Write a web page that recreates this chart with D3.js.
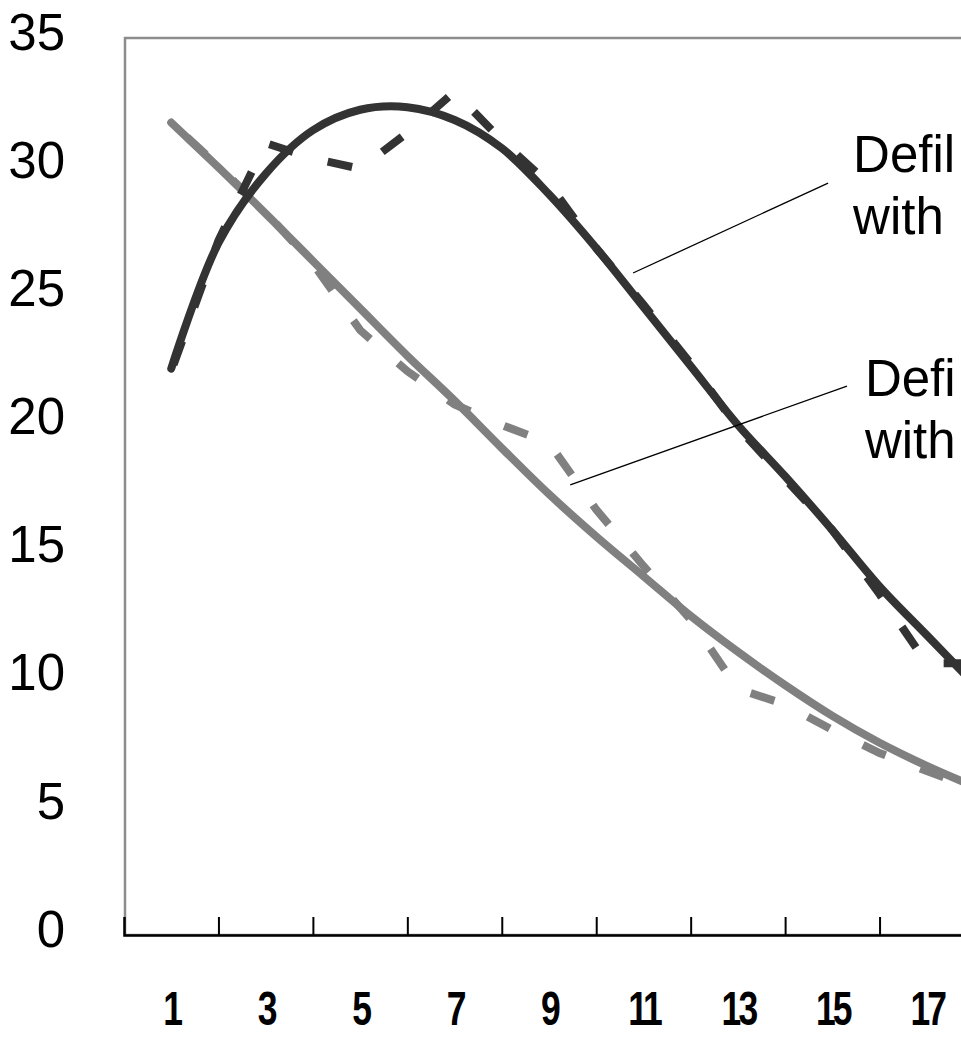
<!DOCTYPE html>
<html>
<head>
<meta charset="utf-8">
<script src="https://cdn.jsdelivr.net/npm/d3@7"></script>
<style>
  html, body { margin: 0; padding: 0; background: #fff; overflow: hidden; }
  svg { display: block; font-family: "Liberation Sans", Arial, sans-serif; }
</style>
</head>
<body>
<div id="chart"></div>
<script>
// categories on the x axis
const categories = [1, 2, 3, 4, 5, 6, 7, 8, 9, 10, 11, 12, 13, 14, 15, 16, 17, 18]

// dark series: measured values (dashed) and its smooth trend
const darkValues = [22.0, 27.1, 30.9, 30.3, 29.9, 31.3, 32.9, 31.0, 29.3, 26.8, 24.6, 22.3, 19.8, 17.8, 15.8, 13.3, 10.6, 10.6]
const darkTrend  = [22.1, 27.0, 29.7, 31.4, 32.2, 32.3, 31.8, 30.7, 28.9, 26.8, 24.5, 22.2, 19.9, 17.9, 15.8, 13.6, 11.7, 9.8]

// light series: measured values (dashed) and its smooth trend
const lightValues = [31.7, 30.0, 28.2, 26.2, 23.6, 22.0, 20.7, 19.9, 19.2, 16.6, 14.4, 12.3, 9.6, 9.0, 8.0, 7.1, 6.4, 5.7]
const lightTrend  = [31.7, 29.95, 28.15, 26.3, 24.45, 22.6, 20.85, 19.0, 17.2, 15.55, 14.0, 12.45, 11.05, 9.75, 8.55, 7.5, 6.6, 5.8]

// axis ticks
const yTicks = [0, 5, 10, 15, 20, 25, 30, 35]
const xTickMarks = [2, 4, 6, 8, 10, 12, 14, 16, 18]
const xTickLabels = [1, 3, 5, 7, 9, 11, 13, 15, 17]

// callout texts (cut by the right edge of the picture)
const calloutLines = [["Defil", "with"], ["Defi", "with"]]
const calloutText = [[15.44, 29.77], [15.69, 21.03]]
const calloutFrom = [[14.91, 29.34], [15.31, 21.42]]
const calloutTo   = [[10.78, 25.83], [9.45, 17.56]]

// setup the dimensions
const margin = { top: 38, right: -14, bottom: 103, left: 125 }
const width = 961 - margin.left - margin.right
const height = 1038 - margin.top - margin.bottom

const svg = d3.select("#chart")
  .append("svg")
    .attr("width", 961)
    .attr("height", 1038)
  .append("g")
    .attr("transform", "translate(" + margin.left + "," + margin.top + ")")

const x = d3.scaleLinear()
    .domain([0, 18])
    .range([-1, width - 1])

const y = d3.scaleLinear()
    .domain([0, 35])
    .range([height, 0])

// plot area border (grey, top and left)
svg.append("rect")
    .attr("x", 0)
    .attr("y", 0)
    .attr("width", width)
    .attr("height", height)
    .attr("fill", "none")
    .attr("stroke", "#8c8c8c")
    .attr("stroke-width", 2.5)

// y axis labels
const yAxis = svg.append("g")
    .call(d3.axisLeft(y).tickValues(yTicks).tickSize(0).tickPadding(60))
yAxis.select(".domain").remove()
yAxis.selectAll("text")
    .attr("font-size", 51)
    .attr("font-family", "Liberation Sans, Arial, sans-serif")
    .attr("fill", "#000")
    .attr("dy", "0.22em")

// x axis line with inner tick marks
const xAxis = svg.append("g")
    .attr("transform", `translate(0,${height})`)
    .call(d3.axisBottom(x).tickValues(xTickMarks).tickSize(-18).tickFormat(""))
xAxis.select(".domain")
    .attr("stroke", "#000")
    .attr("stroke-width", 2.5)
xAxis.selectAll(".tick line")
    .attr("stroke", "#000")
    .attr("stroke-width", 2)

// x axis labels, narrow digits
const xLabels = svg.append("g")
    .attr("transform", `translate(0,${height})`)
    .call(d3.axisBottom(x).tickValues(xTickLabels).tickSize(0).tickPadding(56))
xLabels.select(".domain").remove()
xLabels.selectAll("text")
    .attr("font-size", 48)
    .attr("font-weight", "bold")
    .attr("letter-spacing", -4)
    .attr("font-family", "Liberation Sans, Arial, sans-serif")
    .attr("fill", "#000")
    .attr("transform", "scale(0.74,1)")

const rows = (vals) => categories.map((c, i) => ({ c: c, v: vals[i] }))

const straight = d3.line()
    .x(d => x(d.c))
    .y(d => y(d.v))

const smooth = d3.line()
    .curve(d3.curveCatmullRom.alpha(0.5))
    .x(d => x(d.c))
    .y(d => y(d.v))

// light series
svg.append("path")
    .datum(rows(lightValues))
    .attr("fill", "none")
    .attr("stroke", "#808080")
    .attr("stroke-width", 8)
    .attr("stroke-dasharray", "25,37")
    .attr("stroke-dashoffset", 40)
    .attr("d", straight)

svg.append("path")
    .datum(rows(lightTrend))
    .attr("fill", "none")
    .attr("stroke", "#808080")
    .attr("stroke-width", 8)
    .attr("stroke-linecap", "round")
    .attr("d", smooth)

// dark series
svg.append("path")
    .datum(rows(darkValues))
    .attr("fill", "none")
    .attr("stroke", "#333333")
    .attr("stroke-width", 8)
    .attr("stroke-dasharray", "25,36")
    .attr("stroke-dashoffset", 54)
    .attr("d", straight)

svg.append("path")
    .datum(rows(darkTrend))
    .attr("fill", "none")
    .attr("stroke", "#333333")
    .attr("stroke-width", 8)
    .attr("stroke-linecap", "round")
    .attr("d", smooth)

// callout leader lines
calloutFrom.forEach((p, i) => {
    svg.append("line")
        .attr("x1", x(p[0]))
        .attr("y1", y(p[1]))
        .attr("x2", x(calloutTo[i][0]))
        .attr("y2", y(calloutTo[i][1]))
        .attr("stroke", "#000")
        .attr("stroke-width", 1.3)
})

// callout texts
calloutLines.forEach((lines, i) => {
    const t = svg.append("text")
        .attr("x", x(calloutText[i][0]))
        .attr("y", y(calloutText[i][1]))
        .attr("font-size", 51)
        .attr("fill", "#000")
    lines.forEach((s, k) => {
        t.append("tspan")
            .attr("x", x(calloutText[i][0]))
            .attr("dy", k == 0 ? 0 : 62)
            .text(s)
    })
})
</script>
</body>
</html>
